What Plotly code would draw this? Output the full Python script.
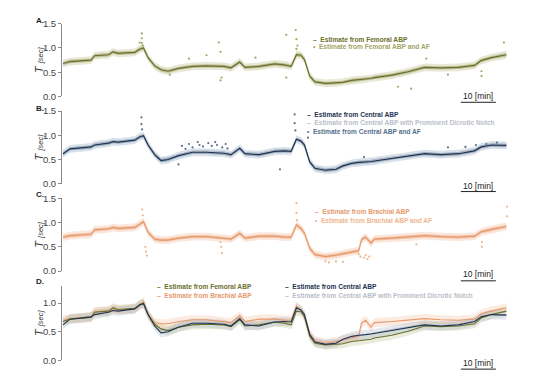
import plotly.graph_objects as go

# ---------------- data (time in minutes, T in seconds) ----------------
TIME = [0, 2, 8, 9, 13, 14.3, 15.7, 20.5, 22, 23, 24.3, 26.2, 28, 30, 33, 37, 41, 46, 48, 50.5,
        52, 56, 60.5, 63.3, 65.2, 66.7, 68, 69, 70.5, 72, 75, 78, 80, 82.5, 84.5, 85.3, 86.5, 88,
        89, 94, 98.6, 103.3, 108, 113, 117.6, 119.5, 122.4, 126.7]

FEMORAL = [0.68, 0.72, 0.75, 0.84, 0.86, 0.92, 0.89, 0.91, 0.98, 1.00, 0.80, 0.63, 0.55, 0.52, 0.58,
           0.62, 0.63, 0.62, 0.59, 0.71, 0.60, 0.62, 0.67, 0.65, 0.62, 0.86, 0.85, 0.76, 0.42, 0.30,
           0.27, 0.28, 0.29, 0.33, 0.34, 0.35, 0.36, 0.37, 0.39, 0.44, 0.51, 0.60, 0.59, 0.60, 0.64,
           0.74, 0.80, 0.86]

CENTRAL = [0.62, 0.72, 0.76, 0.80, 0.84, 0.87, 0.86, 0.90, 0.97, 0.99, 0.80, 0.60, 0.48, 0.50, 0.58,
           0.65, 0.65, 0.63, 0.60, 0.73, 0.62, 0.60, 0.67, 0.68, 0.67, 0.92, 0.88, 0.80, 0.45, 0.32,
           0.28, 0.30, 0.37, 0.42, 0.44, 0.44, 0.45, 0.46, 0.47, 0.53, 0.58, 0.62, 0.60, 0.62, 0.68,
           0.76, 0.80, 0.79]

CENTRAL_NOTCH = [0.63, 0.73, 0.77, 0.81, 0.85, 0.88, 0.87, 0.91, 0.98, 1.00, 0.82, 0.62, 0.52, 0.54,
                 0.60, 0.66, 0.67, 0.65, 0.62, 0.72, 0.64, 0.63, 0.68, 0.69, 0.68, 0.90, 0.87, 0.78,
                 0.44, 0.33, 0.29, 0.31, 0.36, 0.41, 0.43, 0.44, 0.46, 0.47, 0.48, 0.54, 0.59, 0.63,
                 0.61, 0.63, 0.69, 0.77, 0.81, 0.80]

BRACHIAL = [0.70, 0.73, 0.76, 0.85, 0.87, 0.90, 0.88, 0.90, 0.97, 1.02, 0.80, 0.66, 0.64, 0.64, 0.68,
            0.71, 0.71, 0.68, 0.66, 0.78, 0.68, 0.72, 0.72, 0.70, 0.70, 0.95, 0.88, 0.78, 0.47, 0.34,
            0.30, 0.33, 0.36, 0.40, 0.42, 0.65, 0.70, 0.58, 0.66, 0.68, 0.70, 0.73, 0.71, 0.70, 0.72,
            0.81, 0.86, 0.92]

# scattered AF estimates (outliers around the main trend)
FEM_AF_T = [21.9, 22.5, 22.5, 22.5, 22.8, 44.5, 45.0, 45.3, 45.0, 41.0, 63.8, 63.8, 66.5, 66.7,
            66.7, 67.0, 95.7, 99.5, 103.8, 119.6, 119.6, 126.0, 30.5, 36.0, 55.0, 110.0]
FEM_AF_V = [1.11, 1.30, 1.20, 1.10, 1.05, 1.11, 0.92, 0.39, 0.33, 0.85, 1.27, 0.39, 1.37, 1.18,
            0.98, 1.05, 0.20, 0.16, 0.78, 0.42, 0.52, 1.11, 0.45, 0.78, 0.80, 0.45]

CEN_AF_T = [34, 35, 36, 37, 38.5, 39, 40, 41.5, 42.5, 43.5, 44, 45.5, 46.5, 47, 22.4, 22.4, 22.6,
            66.2, 66.2, 66.4, 62, 110, 115, 118, 121, 124, 86, 70, 33]
CEN_AF_V = [0.78, 0.72, 0.82, 0.75, 0.86, 0.80, 0.77, 0.84, 0.78, 0.86, 0.80, 0.75, 0.82, 0.73,
            1.37, 1.23, 1.12, 1.43, 1.25, 1.10, 0.30, 0.75, 0.76, 0.80, 0.82, 0.85, 0.55, 0.95, 0.40]

BRA_AF_T = [22.6, 22.8, 23.5, 23.7, 24.0, 45.0, 45.2, 45.4, 66.7, 66.7, 66.9, 84.5, 85.0, 86.0,
            86.5, 87.0, 87.5, 75, 76, 78, 80, 119.7, 119.7, 126.9, 126.9, 101]
BRA_AF_V = [1.27, 1.15, 0.50, 0.40, 0.32, 0.60, 0.50, 0.37, 1.40, 1.20, 1.05, 0.35, 0.30, 0.28,
            0.33, 0.25, 0.30, 0.20, 0.18, 0.20, 0.19, 0.50, 0.60, 1.33, 1.13, 0.55]

BAND_HALF = 0.08      # half width of the shaded uncertainty band
CLOUD_HALF = 0.035    # half width of the dense dot cloud
SCALE_BAR = (113.7, 123.7)
Y_TICKS = [0.0, 0.5, 1.0, 1.5]
Y_TICK_TEXT = ["0.0", "0.5", "1.0", "1.5"]

# ---------------- styling ----------------
W, H = 540, 370
FONT = "Liberation Sans"
COL = {
    "fem": "#6b6f2c", "fem_af": "#a3a566", "fem_band": "rgba(175,180,115,0.30)", "fem_cloud": "rgba(135,140,70,0.45)",
    "cen": "#1e3350", "cen_af": "#56708e", "cen_band": "rgba(130,155,185,0.30)", "cen_cloud": "rgba(80,105,135,0.45)",
    "notch": "#b9bec8",
    "bra": "#e6996c", "bra_af": "#efb690", "bra_band": "rgba(242,175,135,0.30)", "bra_cloud": "rgba(232,150,105,0.40)",
}


def py(px):
    return 1 - px / H


def px_x(px):
    return px / W


# panel vertical extents in pixels (top, bottom) and y ranges
PANELS = [
    dict(top=10, bot=85, rng=[0, 1.5]),
    dict(top=100, bot=175, rng=[0, 1.5]),
    dict(top=190, bot=265, rng=[0, 1.5]),
    dict(top=280, bot=357, rng=[0, 1.305]),
]

fig = go.Figure()


def band(ax, vals, half, color):
    up = [v + half for v in vals]
    lo = [v - half for v in vals]
    fig.add_trace(go.Scatter(x=TIME + TIME[::-1], y=up + lo[::-1], fill="toself", fillcolor=color,
                             line=dict(width=0), mode="lines", hoverinfo="skip", showlegend=False,
                             xaxis="x" + ax, yaxis="y" + ax))


def line(ax, vals, color, width=1.2):
    fig.add_trace(go.Scatter(x=TIME, y=vals, mode="lines", line=dict(color=color, width=width),
                             showlegend=False, xaxis="x" + ax, yaxis="y" + ax))


def dots(ax, t, v, color):
    fig.add_trace(go.Scatter(x=t, y=v, mode="markers", marker=dict(color=color, size=2.2),
                             showlegend=False, xaxis="x" + ax, yaxis="y" + ax))


# Panel A (femoral)
band("", FEMORAL, BAND_HALF, COL["fem_band"])
band("", FEMORAL, CLOUD_HALF, COL["fem_cloud"])
dots("", FEM_AF_T, FEM_AF_V, COL["fem_af"])
line("", FEMORAL, COL["fem"])

# Panel B (central)
band("2", CENTRAL, BAND_HALF, COL["cen_band"])
band("2", CENTRAL, CLOUD_HALF, COL["cen_cloud"])
dots("2", CEN_AF_T, CEN_AF_V, COL["cen_af"])
line("2", CENTRAL_NOTCH, COL["notch"], 1.0)
line("2", CENTRAL, COL["cen"])

# Panel C (brachial)
band("3", BRACHIAL, BAND_HALF, COL["bra_band"])
band("3", BRACHIAL, CLOUD_HALF, COL["bra_cloud"])
dots("3", BRA_AF_T, BRA_AF_V, COL["bra_af"])
line("3", BRACHIAL, COL["bra"])

# Panel D (all)
band("4", FEMORAL, BAND_HALF, "rgba(175,180,115,0.25)")
band("4", BRACHIAL, BAND_HALF, "rgba(242,175,135,0.25)")
band("4", CENTRAL, BAND_HALF, "rgba(130,155,185,0.22)")
line("4", CENTRAL_NOTCH, COL["notch"], 1.0)
line("4", BRACHIAL, COL["bra"], 1.1)
line("4", FEMORAL, COL["fem"], 1.1)
line("4", CENTRAL, COL["cen"], 1.1)

x_dom = [px_x(54), px_x(519)]
x_rng = [-0.3, 132.6]
layout = dict(width=W, height=H, margin=dict(l=0, r=0, t=0, b=0), plot_bgcolor="white",
              paper_bgcolor="white", showlegend=False)

for i, p in enumerate(PANELS):
    sfx = "" if i == 0 else str(i + 1)
    layout["xaxis" + sfx] = dict(domain=x_dom, range=x_rng, visible=False, anchor="y" + sfx)
    ticks = [t for t in Y_TICKS if t <= p["rng"][1] + 1e-9]
    layout["yaxis" + sfx] = dict(domain=[py(p["bot"]), py(p["top"])], range=p["rng"],
                                 anchor="x" + sfx, showline=True, linecolor="#8a8a8a", linewidth=1,
                                 ticks="outside", ticklen=3, tickcolor="#8a8a8a", showgrid=False,
                                 zeroline=False, tickvals=ticks,
                                 ticktext=Y_TICK_TEXT[:len(ticks)],
                                 tickfont=dict(family=FONT, size=9.5, color="#444"))

fig.update_layout(**layout)

# y-axis titles as rotated annotations (placed left of tick labels)
for p in PANELS:
    ymid = (p["top"] + p["bot"]) / 2
    fig.add_annotation(x=px_x(31), y=py(ymid), xref="paper", yref="paper",
                       text="<i>T</i> <i><span style='font-size:7.5px'>[sec]</span></i>",
                       textangle=-90, showarrow=False, xanchor="center", yanchor="middle",
                       font=dict(family=FONT, size=11, color="#333"))

# panel letters
for letter, ypx in zip(["A.", "B.", "C.", "D."], [7, 97, 186, 276]):
    fig.add_annotation(x=px_x(26), y=py(ypx), xref="paper", yref="paper", text="<b>%s</b>" % letter,
                       showarrow=False, xanchor="left", yanchor="middle",
                       font=dict(family=FONT, size=8, color="#222"))

# scale bars
for i, (txt_y, bar_y) in enumerate([(85, 91), (177, 183), (268, 275), (360, 366)]):
    sfx = "" if i == 0 else str(i + 1)
    fig.add_shape(type="line", xref="x" + sfx, yref="paper", x0=SCALE_BAR[0], x1=SCALE_BAR[1],
                  y0=py(bar_y), y1=py(bar_y), line=dict(color="#222", width=1))
    fig.add_annotation(x=(SCALE_BAR[0] + SCALE_BAR[1]) / 2, y=py(txt_y), xref="x" + sfx, yref="paper",
                       text="10 [min]", showarrow=False, xanchor="center", yanchor="middle",
                       font=dict(family=FONT, size=8.5, color="#222"))


def legend_row(xpx, ypx, symbol, label, color):
    fig.add_annotation(x=px_x(xpx), y=py(ypx), xref="paper", yref="paper",
                       text="<b>%s  %s</b>" % (symbol, label), showarrow=False,
                       xanchor="left", yanchor="middle",
                       font=dict(family=FONT, size=6.6, color=color))


legend_row(303, 26, "–", "Estimate from Femoral ABP", COL["fem"])
legend_row(303, 34, "•", "Estimate from Femoral ABP and AF", COL["fem_af"])

legend_row(297, 104, "–", "Estimate from Central ABP", COL["cen"])
legend_row(297, 112, "–", "Estimate from Central ABP with Prominent Dicrotic Notch", COL["notch"])
legend_row(297, 121, "•", "Estimate from Central ABP and AF", COL["cen_af"])

legend_row(305, 204, "–", "Estimate from Brachial ABP", COL["bra"])
legend_row(305, 213, "•", "Estimate from Brachial ABP and AF", COL["bra_af"])

legend_row(147, 281, "–", "Estimate from Femoral ABP", COL["fem"])
legend_row(147, 290, "–", "Estimate from Brachial ABP", COL["bra"])
legend_row(275, 281, "–", "Estimate from Central ABP", COL["cen"])
legend_row(275, 290, "–", "Estimate from Central ABP with Prominent Dicrotic Notch", COL["notch"])

fig.write_html("out.html")
